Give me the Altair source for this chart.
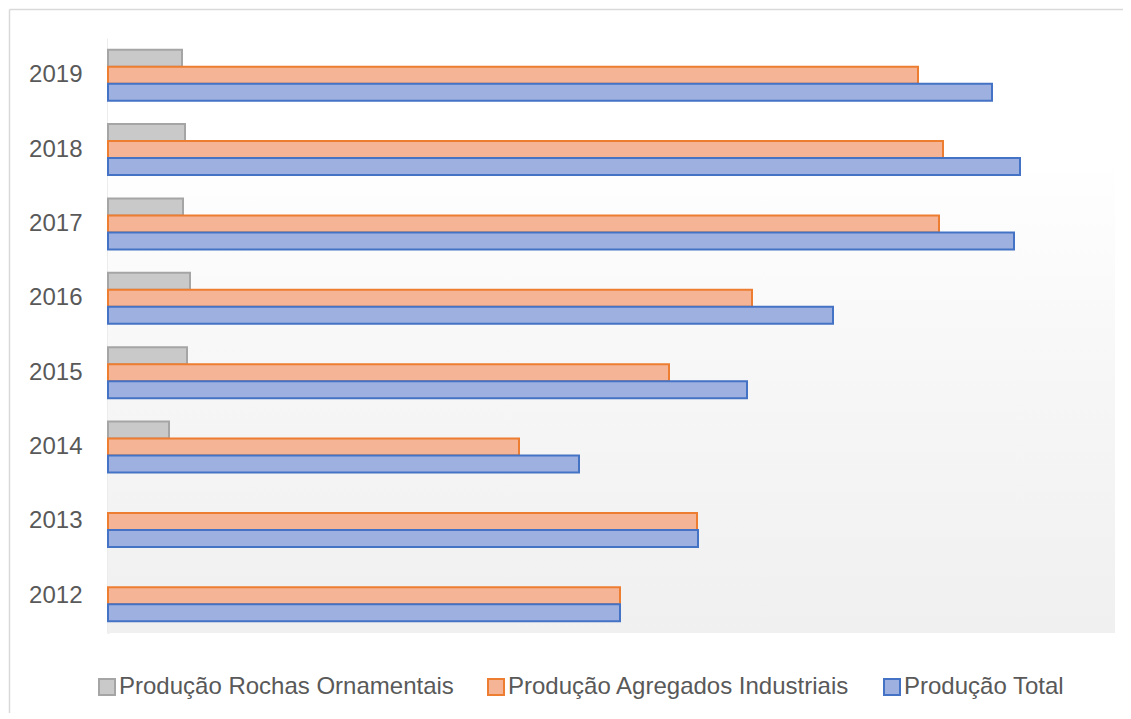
import altair as alt
import pandas as pd

years = ["2012", "2013", "2014", "2015", "2016", "2017", "2018", "2019"]
rochas = [None, None, 61, 79, 82, 75, 77, 74]
agregados = [512, 589, 411, 561, 644, 831, 835, 810]
total = [512, 590, 471, 639, 725, 906, 912, 884]

series_order = ["Produção Rochas Ornamentais", "Produção Agregados Industriais", "Produção Total"]
fills = ["#c9c9c9", "#f5b495", "#9db0e0"]
strokes = ["#a5a5a5", "#ed7d31", "#4472c4"]

rows = []
for i, y in enumerate(years):
    for name, vals in zip(series_order, [rochas, agregados, total]):
        if vals[i] is not None:
            rows.append({"year": y, "series": name, "value": vals[i]})
df = pd.DataFrame(rows)

W, H = 1007, 595
FONT = "Liberation Sans"

leg = alt.Legend(
    title=None, orient="none", legendX=-13, legendY=637, direction="horizontal",
    symbolType="square", symbolSize=256, symbolStrokeWidth=2,
    labelFontSize=24, labelColor="#595959", labelFont=FONT, labelOffset=0,
    columnPadding=30, padding=0, labelLimit=600,
)

one = pd.DataFrame({"a": [0]})

bg = alt.Chart(one).mark_rect(
    color=alt.Gradient(
        gradient="linear", x1=0, y1=0, x2=0, y2=1,
        stops=[
            alt.GradientStop(offset=0, color="#ffffff"),
            alt.GradientStop(offset=0.2, color="#ffffff"),
            alt.GradientStop(offset=0.6, color="#f6f6f6"),
            alt.GradientStop(offset=1, color="#f0f0f0"),
        ],
    )
).encode(x=alt.value(0), x2=alt.value(W), y=alt.value(0), y2=alt.value(H))

bars = alt.Chart(df).mark_bar(strokeWidth=2).encode(
    y=alt.Y(
        "year:N", sort="descending",
        scale=alt.Scale(paddingInner=0.314, paddingOuter=0.157),
        axis=alt.Axis(
            title=None, ticks=False, tickSize=0, labelFontSize=24, labelColor="#595959",
            labelFont=FONT, labelPadding=26, domainColor="#d9d9d9", domainWidth=2, grid=False,
        ),
    ),
    yOffset=alt.YOffset(
        "series:N", sort=series_order,
        scale=alt.Scale(domain=series_order, paddingInner=0, paddingOuter=0),
    ),
    x=alt.X("value:Q", scale=alt.Scale(domain=[0, W]), axis=None),
    fill=alt.Fill("series:N", scale=alt.Scale(domain=series_order, range=fills), legend=leg),
    stroke=alt.Stroke("series:N", scale=alt.Scale(domain=series_order, range=strokes), legend=leg),
)

left_edge = alt.Chart(one).mark_rule(color="#d9d9d9", strokeWidth=1.5).encode(
    x=alt.value(-98.5), y=alt.value(-28.5), y2=alt.value(1000)
)
top_edge = alt.Chart(one).mark_rule(color="#d9d9d9", strokeWidth=1.5).encode(
    y=alt.value(-28.5), x=alt.value(-98.5), x2=alt.value(1300)
)

chart = alt.layer(bg, bars, left_edge, top_edge).properties(
    width=W, height=H,
    padding={"left": 100, "top": 30, "right": 8, "bottom": 80},
    autosize=alt.AutoSizeParams(type="none"),
).configure_view(stroke=None)

chart.save("out.html", embed_options={"renderer": "svg", "actions": False})
